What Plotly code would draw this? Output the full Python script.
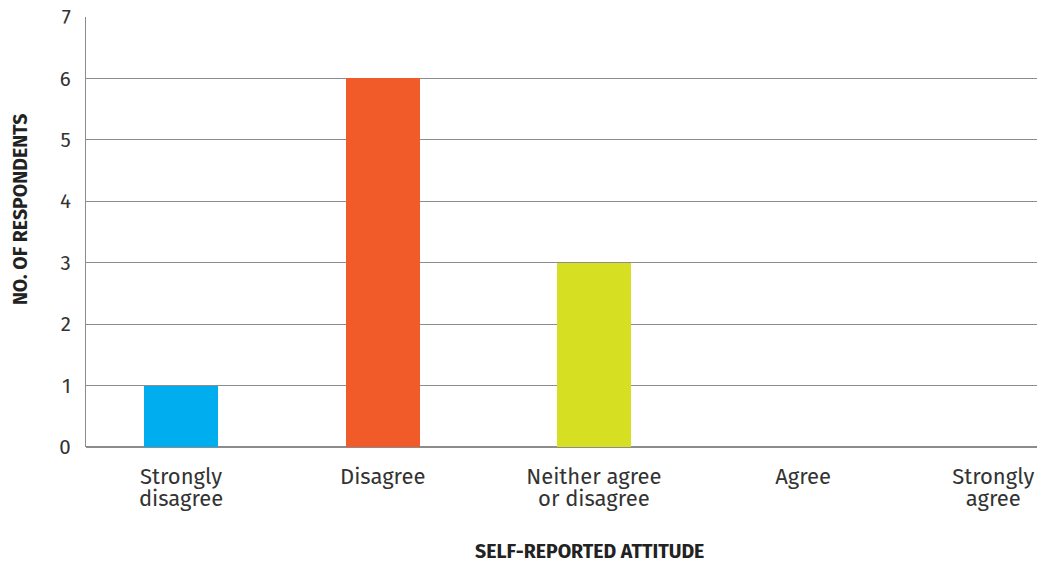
import plotly.graph_objects as go

categories = ["Strongly disagree", "Disagree", "Neither agree or disagree", "Agree", "Strongly agree"]
label_line1 = ["Strongly", "Disagree", "Neither agree", "Agree", "Strongly"]
label_line2 = ["disagree", "", "or disagree", "", "agree"]
respondents = [1, 6, 3, 0, 0]
cat_pos = [0.0, 1.06, 2.17, 3.27, 4.27]
colors = ["#00AEEF", "#F15A29", "#D7DF23", "#8DC63F", "#2E3192"]
x_title = "SELF-REPORTED ATTITUDE"
y_title = "NO. OF RESPONDENTS"

fig = go.Figure()
fig.add_trace(go.Bar(
    x=cat_pos, y=respondents, width=0.39,
    marker=dict(color=colors, line=dict(width=0)),
    customdata=categories,
    hovertemplate="%{customdata}: %{y}<extra></extra>",
))
# invisible trace to activate the second (label) x-axis
fig.add_trace(go.Scatter(x=[cat_pos[0]], y=[0], xaxis="x2", mode="markers",
                         marker=dict(opacity=0), hoverinfo="skip", showlegend=False))

font_family = "Fira Sans, Noto Sans, Open Sans, sans-serif"
tick_font = dict(size=22, color="#333333", family=font_family)
title_font = dict(size=19.5, color="#222222", family=font_family)

fig.update_layout(
    width=1042, height=565,
    margin=dict(l=86, r=5, t=17, b=118),
    paper_bgcolor="white", plot_bgcolor="white",
    showlegend=False,
    bargap=0,
    font=dict(family=font_family, color="#333333"),
    xaxis=dict(
        range=[-0.5, 4.5],
        tickmode="array", tickvals=cat_pos, ticktext=label_line1,
        tickfont=tick_font,
        ticks="outside", ticklen=10, tickcolor="rgba(0,0,0,0)",
        showgrid=False, zeroline=False, showline=False,
        automargin=False, fixedrange=True,
    ),
    xaxis2=dict(
        range=[-0.5, 4.5], overlaying="x", side="bottom", anchor="y",
        tickmode="array", tickvals=cat_pos, ticktext=label_line2,
        tickfont=tick_font,
        ticks="outside", ticklen=32, tickcolor="rgba(0,0,0,0)",
        showgrid=False, zeroline=False, showline=False,
        automargin=False, fixedrange=True,
    ),
    yaxis=dict(
        range=[0, 7], dtick=1,
        tickfont=dict(size=20.5, color="#333333", family=font_family),
        ticks="outside", ticklen=10, tickcolor="rgba(0,0,0,0)",
        showgrid=True, gridcolor="#8c8c8c", gridwidth=1.2,
        zeroline=True, zerolinecolor="#8c8c8c", zerolinewidth=1.5,
        showline=True, linecolor="#8c8c8c", linewidth=1.2,
        automargin=False, fixedrange=True,
    ),
    annotations=[
        dict(text="<b>" + x_title + "</b>", xref="paper", yref="paper",
             x=0.529, y=-0.242, xanchor="center", yanchor="middle",
             showarrow=False, font=title_font),
        dict(text="<b>" + y_title + "</b>", xref="paper", yref="paper",
             x=-0.0694, y=0.551, xanchor="center", yanchor="middle",
             textangle=-90, showarrow=False, font=title_font),
    ],
)

fig.write_html("out.html")
